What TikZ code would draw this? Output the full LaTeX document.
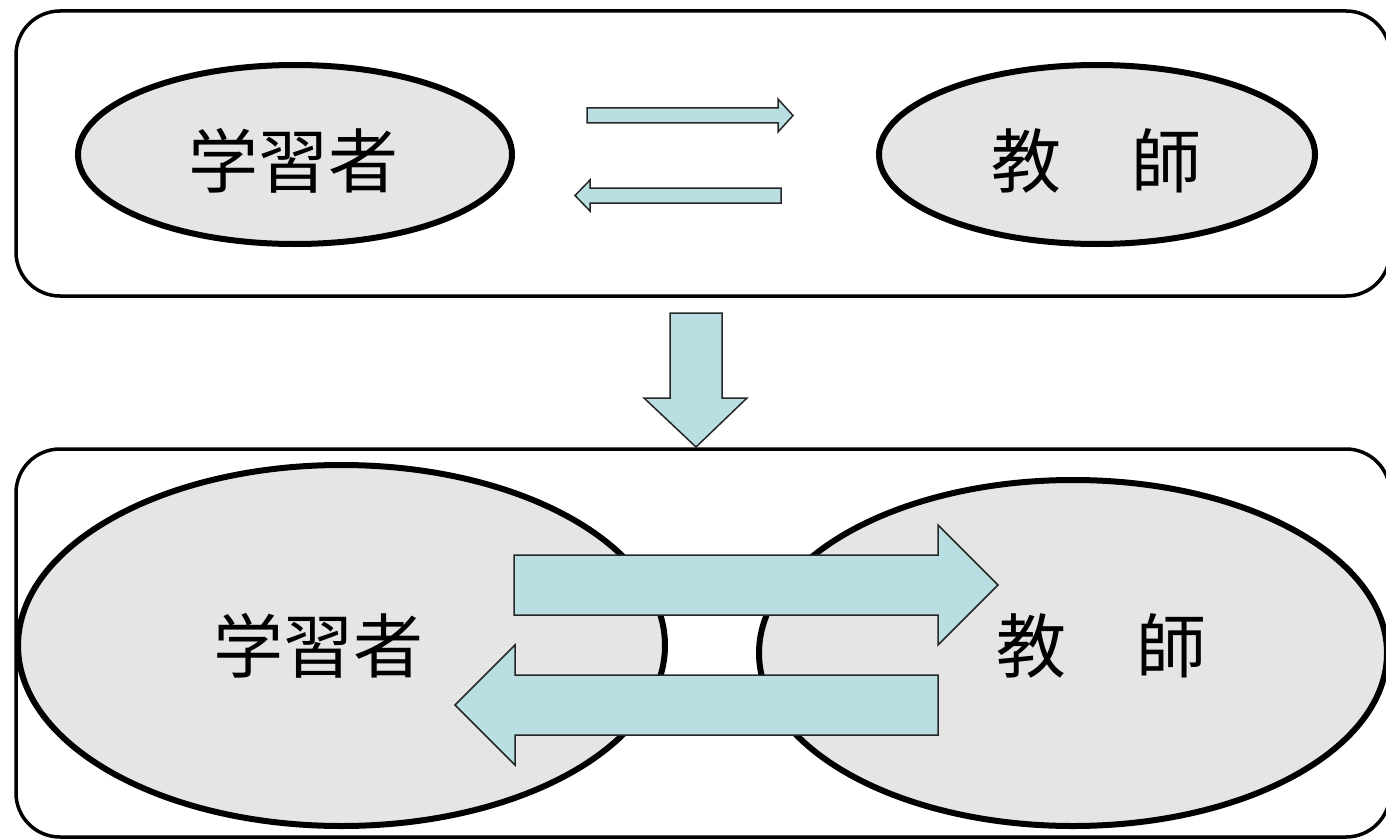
\documentclass[tikz,border=0pt]{standalone}
\usepackage{fontspec}
\newfontfamily\cjk{Noto Sans CJK JP}
\usetikzlibrary{shapes.geometric}
\definecolor{arrowfill}{HTML}{B9DFE2}
\definecolor{ellfill}{HTML}{E5E5E5}
\tikzset{
  panel/.style={draw=black,line width=3.5pt,rounded corners=44pt},
  party/.style={ellipse,draw=black,fill=ellfill,line width=6pt,inner sep=0pt},
  blockarrow/.style={draw=black!85,fill=arrowfill,line width=1.5pt,line join=miter},
  lbl/.style={font=\cjk\fontsize{70pt}{80pt}\selectfont,inner sep=0pt}
}
\begin{document}
\begin{tikzpicture}[x=1pt,y=-1pt]
\useasboundingbox (0,0) rectangle (1386,840);
% panels
\draw[panel] (16,11) rectangle (1390,296);
\draw[panel] (16,449) rectangle (1390,837);
% top ellipses
\node[party,minimum width=434pt,minimum height=179pt] (L1) at (295,154.5) {};
\node[party,minimum width=436pt,minimum height=179pt] (T1) at (1097,154.5) {};
\node[lbl] (l1) at (293,161) {学習者};
\node[lbl] (t1) at (1096,161) {教　師};
% top arrows
\draw[blockarrow] (587,108) -- (778,108) -- (778,99) -- (793,115.5) -- (778,132) -- (778,123) -- (587,123) -- cycle;
\draw[blockarrow] (781,188) -- (590,188) -- (590,180) -- (575,195.5) -- (590,211) -- (590,203) -- (781,203) -- cycle;
% down arrow
\draw[blockarrow] (670,313) -- (722,313) -- (722,398) -- (747,398) -- (696,447) -- (644,398) -- (670,398) -- cycle;
% bottom ellipses
\node[party,minimum width=647pt,minimum height=361pt] (L2) at (341.5,645.5) {};
\node[party,minimum width=628pt,minimum height=346pt] (T2) at (1073,653) {};
\node[lbl] (l2) at (318,646) {学習者};
\node[lbl] (t2) at (1101,646) {教　師};
% bottom arrows
\draw[blockarrow] (514,555) -- (938,555) -- (938,525) -- (998,585) -- (938,645) -- (938,615) -- (514,615) -- cycle;
\draw[blockarrow] (938,675) -- (515,675) -- (515,645) -- (455,705) -- (515,765) -- (515,735) -- (938,735) -- cycle;
\end{tikzpicture}
\end{document}
